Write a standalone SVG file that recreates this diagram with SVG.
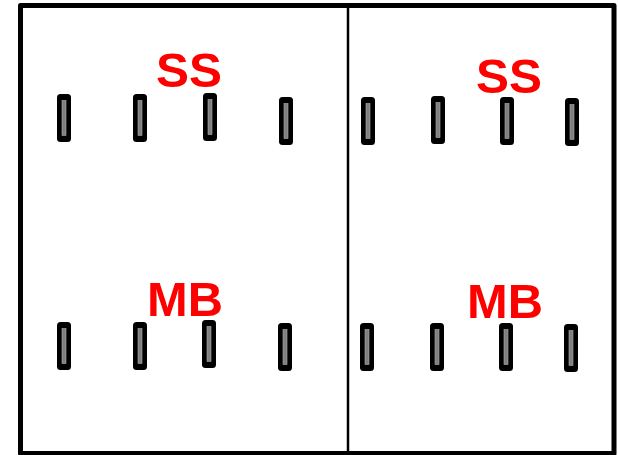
<svg xmlns="http://www.w3.org/2000/svg" width="618" height="455" viewBox="0 0 618 455">
  <style>
    .frame { fill: #ffffff; stroke: #000000; stroke-width: 5; stroke-linejoin: round; }
    .divider { stroke: #000000; stroke-width: 2.5; }
    .lbl { font-family: "Liberation Sans", Arial, sans-serif; font-weight: bold; font-size: 48px; fill: #ff0000; }
  </style>
  <defs>
    <g id="bar">
      <rect x="0" y="0" width="14" height="48" rx="3.5" fill="#000000"/>
      <rect x="5" y="6.5" width="4" height="35" fill="#7f7f7f" stroke="#b0b0b0" stroke-width="0.6"/>
    </g>
  </defs>

  <g id="frame">
    <rect class="frame" x="20.5" y="5.5" width="593.5" height="448"/>
    <line class="divider" x1="348" y1="6" x2="348" y2="452"/>
  </g>

  <g id="left-panel">
    <text class="lbl" x="156" y="87" textLength="66" lengthAdjust="spacingAndGlyphs">SS</text>
    <text class="lbl" x="147" y="316" textLength="76" lengthAdjust="spacingAndGlyphs">MB</text>
    <use href="#bar" x="57" y="94"/>
    <use href="#bar" x="133" y="94"/>
    <use href="#bar" x="203" y="93"/>
    <use href="#bar" x="279" y="97"/>
    <use href="#bar" x="57" y="322"/>
    <use href="#bar" x="133" y="322"/>
    <use href="#bar" x="202" y="320"/>
    <use href="#bar" x="278" y="323"/>
  </g>

  <g id="right-panel">
    <text class="lbl" x="476" y="93" textLength="66" lengthAdjust="spacingAndGlyphs">SS</text>
    <text class="lbl" x="467" y="318" textLength="76" lengthAdjust="spacingAndGlyphs">MB</text>
    <use href="#bar" x="361" y="97"/>
    <use href="#bar" x="431" y="96"/>
    <use href="#bar" x="500" y="97"/>
    <use href="#bar" x="565" y="98"/>
    <use href="#bar" x="360" y="323"/>
    <use href="#bar" x="430" y="323"/>
    <use href="#bar" x="499" y="323"/>
    <use href="#bar" x="564" y="324"/>
  </g>
</svg>
